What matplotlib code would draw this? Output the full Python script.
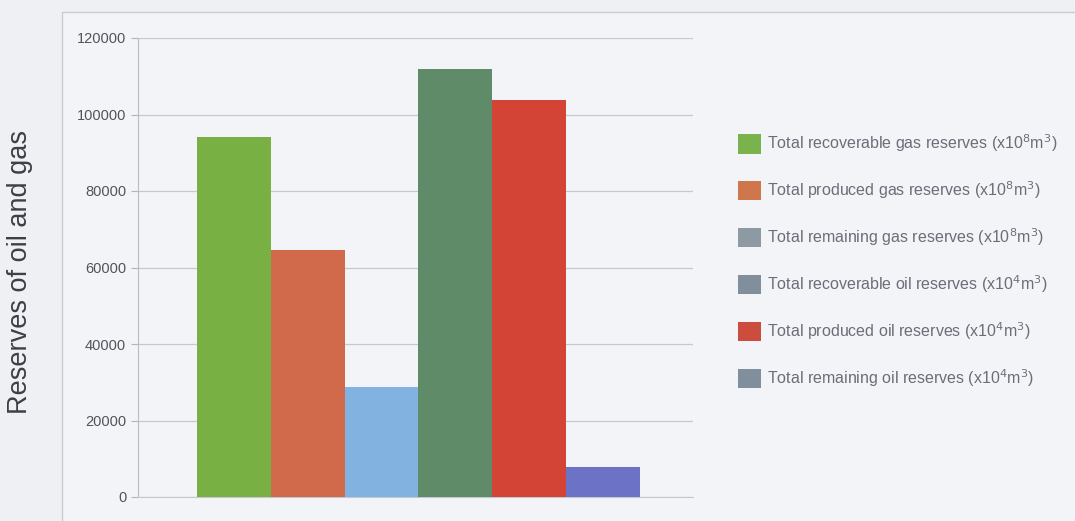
import numpy as np
import matplotlib.pyplot as plt
from matplotlib.patches import Patch, Rectangle

# Data
labels = [
    r"Total recoverable gas reserves (x10$^{8}$m$^{3}$)",
    r"Total produced gas reserves (x10$^{8}$m$^{3}$)",
    r"Total remaining gas reserves (x10$^{8}$m$^{3}$)",
    r"Total recoverable oil reserves (x10$^{4}$m$^{3}$)",
    r"Total produced oil reserves (x10$^{4}$m$^{3}$)",
    r"Total remaining oil reserves (x10$^{4}$m$^{3}$)",
]
values = [94000, 64500, 28700, 112000, 103800, 7800]
bar_colors = ["#78b044", "#d06a4a", "#82b3e0", "#5f8b69", "#d44436", "#6c72c6"]
legend_colors = ["#7ab24c", "#d0764c", "#8d99a3", "#808f9b", "#cc4c3e", "#808f9b"]
yticks = [0, 20000, 40000, 60000, 80000, 100000, 120000]

plt.rcParams["font.family"] = ["Liberation Sans", "DejaVu Sans"]

fig = plt.figure(figsize=(10.75, 5.21), dpi=100, facecolor="#eef0f4")
# outer frame of the chart area
frame = Rectangle((62 / 1075, -0.01), 1.02 - 62 / 1075, 1 - 12 / 521 + 0.01,
                  transform=fig.transFigure, facecolor="#f3f4f7",
                  edgecolor="#c8ccd4", linewidth=1.0, zorder=-5)
fig.add_artist(frame)

ax = fig.add_axes([138 / 1075, 24 / 521, 555 / 1075, 459 / 521])
ax.set_zorder(2)
ax.set_facecolor("#f3f4f7")

x = np.arange(len(values))
ax.bar(x, values, width=1.0, align="edge", color=bar_colors, zorder=3)

ax.set_xlim(-0.8, 6.72)
ax.set_ylim(0, 120000)
ax.set_yticks(yticks)
ax.set_yticklabels([str(v) for v in yticks], fontsize=10.5, color="#50545b")
ax.set_xticks([])
ax.grid(axis="y", color="#c4c8cf", linewidth=0.9, zorder=0)
ax.tick_params(axis="y", length=5, color="#b0b4bb")
for side in ["top", "right"]:
    ax.spines[side].set_visible(False)
ax.spines["left"].set_color("#b8bcc4")
ax.spines["bottom"].set_color("#c4c8cf")

fig.text(20 / 1075, 1 - 272 / 521, "Reserves of oil and gas", rotation=90, fontsize=19.5,
         color="#3c3f46", ha="center", va="center")

handles = [Patch(facecolor=c, edgecolor="none") for c in legend_colors]
leg = fig.legend(handles, labels, loc="upper left", bbox_to_anchor=(724 / 1075, 1 - 118 / 521),
                 frameon=False, fontsize=11.5, labelcolor="#6a6e78", handlelength=1.4,
                 handleheight=1.5, handletextpad=0.4, labelspacing=1.58)
leg.set_zorder(3)

plt.savefig("out.png", dpi=100, facecolor=fig.get_facecolor())
